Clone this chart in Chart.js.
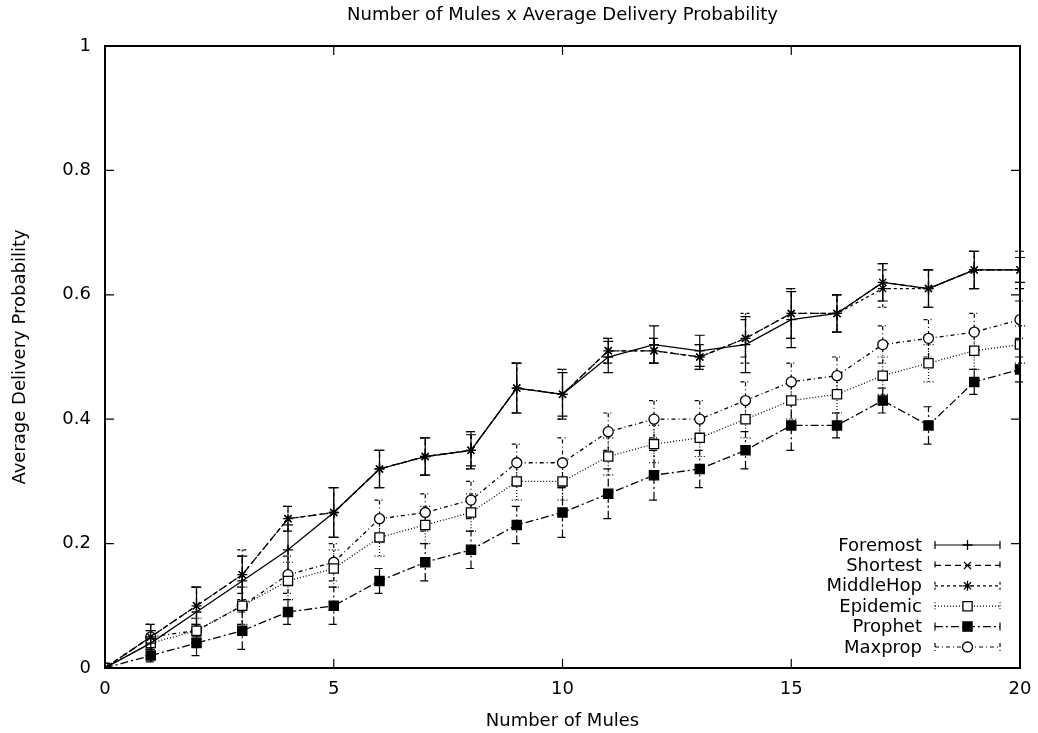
<!DOCTYPE html>
<html>
<head>
<meta charset="utf-8">
<script src="https://cdn.jsdelivr.net/npm/chart.js@4.4.0/dist/chart.umd.min.js"></script>
<style>
html, body { margin: 0; padding: 0; background: #fff; }
#wrap { width: 1038px; height: 733px; }
</style>
</head>
<body>
<div id="wrap"><canvas id="myChart"></canvas></div>
<script>
// data
const mules = [0, 1, 2, 3, 4, 5, 6, 7, 8, 9, 10, 11, 12, 13, 14, 15, 16, 17, 18, 19, 20];
const xTicks = [0, 5, 10, 15, 20];
const yTicks = [0, 0.2, 0.4, 0.6, 0.8, 1];

const foremost  = [0, 0.04, 0.09, 0.14, 0.19, 0.25, 0.32, 0.34, 0.35, 0.45, 0.44, 0.50, 0.52, 0.51, 0.52, 0.56, 0.57, 0.62, 0.61, 0.64, 0.64];
const shortest  = [0, 0.05, 0.10, 0.15, 0.24, 0.25, 0.32, 0.34, 0.35, 0.45, 0.44, 0.51, 0.51, 0.50, 0.53, 0.57, 0.57, 0.62, 0.61, 0.64, 0.64];
const middleHop = [0, 0.05, 0.10, 0.15, 0.24, 0.25, 0.32, 0.34, 0.35, 0.45, 0.44, 0.51, 0.51, 0.50, 0.53, 0.57, 0.57, 0.61, 0.61, 0.64, 0.64];
const epidemic  = [0, 0.04, 0.06, 0.10, 0.14, 0.16, 0.21, 0.23, 0.25, 0.30, 0.30, 0.34, 0.36, 0.37, 0.40, 0.43, 0.44, 0.47, 0.49, 0.51, 0.52];
const prophet   = [0, 0.02, 0.04, 0.06, 0.09, 0.10, 0.14, 0.17, 0.19, 0.23, 0.25, 0.28, 0.31, 0.32, 0.35, 0.39, 0.39, 0.43, 0.39, 0.46, 0.48];
const maxprop   = [0, 0.05, 0.06, 0.10, 0.15, 0.17, 0.24, 0.25, 0.27, 0.33, 0.33, 0.38, 0.40, 0.40, 0.43, 0.46, 0.47, 0.52, 0.53, 0.54, 0.56];

// half-widths of the error bars
const foremostErr  = [0, 0.02, 0.04, 0.04, 0.04, 0.04, 0.03, 0.03, 0.025, 0.04, 0.035, 0.025, 0.03, 0.025, 0.045, 0.045, 0.03, 0.03, 0.03, 0.03, 0.02];
const shortestErr  = [0, 0.02, 0.03, 0.03, 0.02, 0.04, 0.03, 0.03, 0.03, 0.04, 0.04, 0.02, 0.02, 0.02, 0.03, 0.04, 0.03, 0.03, 0.03, 0.03, 0.02];
const middleHopErr = [0, 0.02, 0.03, 0.04, 0.02, 0.04, 0.03, 0.03, 0.03, 0.04, 0.04, 0.02, 0.02, 0.02, 0.04, 0.04, 0.03, 0.03, 0.03, 0.03, 0.03];
const epidemicErr  = [0, 0.02, 0.02, 0.03, 0.03, 0.03, 0.03, 0.03, 0.03, 0.03, 0.03, 0.03, 0.03, 0.03, 0.03, 0.03, 0.03, 0.03, 0.03, 0.03, 0.03];
const prophetErr   = [0, 0.01, 0.02, 0.03, 0.02, 0.03, 0.02, 0.03, 0.03, 0.03, 0.04, 0.04, 0.04, 0.03, 0.03, 0.04, 0.02, 0.02, 0.03, 0.02, 0.02];
const maxpropErr   = [0, 0.02, 0.02, 0.03, 0.03, 0.03, 0.03, 0.03, 0.03, 0.03, 0.04, 0.03, 0.03, 0.03, 0.03, 0.03, 0.03, 0.03, 0.03, 0.03, 0.03];

const TITLE = 'Number of Mules x Average Delivery Probability';
const FONT = "'DejaVu Sans', sans-serif";

function series(label, values, errs, dash, pointStyle, fill, radius) {
    return {
        label: label,
        data: mules.map((m, i) => ({ x: m, y: values[i] })),
        errors: errs,
        borderColor: '#000',
        borderWidth: 1.3,
        borderDash: dash,
        pointStyle: pointStyle,
        pointRadius: radius,
        pointBorderWidth: 1.3,
        pointBorderColor: '#000',
        pointBackgroundColor: fill,
        tension: 0
    };
}

// vertical error bars with caps, drawn through the scales
const errorBars = {
    id: 'errorBars',
    beforeDatasetsDraw(chart) {
        const ctx = chart.ctx, xs = chart.scales.x, ys = chart.scales.y;
        ctx.save();
        ctx.strokeStyle = '#000';
        ctx.lineWidth = 1.2;
        chart.data.datasets.forEach(ds => {
            ctx.setLineDash(ds.borderDash || []);
            ds.data.forEach((p, i) => {
                const e = ds.errors[i];
                if (!e) return;
                const x = xs.getPixelForValue(p.x);
                const y1 = ys.getPixelForValue(p.y - e);
                const y2 = ys.getPixelForValue(p.y + e);
                ctx.beginPath();
                ctx.moveTo(x, y1); ctx.lineTo(x, y2);
                ctx.moveTo(x - 5, y1); ctx.lineTo(x + 5, y1);
                ctx.moveTo(x - 5, y2); ctx.lineTo(x + 5, y2);
                ctx.stroke();
            });
        });
        ctx.restore();
    }
};

// gnuplot style frame with inward ticks on all sides, title centred over the plot
const frame = {
    id: 'frame',
    afterDraw(chart) {
        const ctx = chart.ctx, a = chart.chartArea, xs = chart.scales.x, ys = chart.scales.y;
        ctx.save();
        ctx.strokeStyle = '#000';
        ctx.lineWidth = 2;
        ctx.strokeRect(a.left, a.top, a.right - a.left, a.bottom - a.top);
        ctx.lineWidth = 1.2;
        ctx.beginPath();
        xTicks.forEach(t => {
            const x = xs.getPixelForValue(t);
            ctx.moveTo(x, a.bottom); ctx.lineTo(x, a.bottom - 9);
            ctx.moveTo(x, a.top); ctx.lineTo(x, a.top + 9);
        });
        yTicks.forEach(t => {
            const y = ys.getPixelForValue(t);
            ctx.moveTo(a.left, y); ctx.lineTo(a.left + 9, y);
            ctx.moveTo(a.right, y); ctx.lineTo(a.right - 9, y);
        });
        ctx.stroke();
        ctx.font = '18px ' + FONT;
        ctx.fillStyle = '#000';
        ctx.textAlign = 'center';
        ctx.textBaseline = 'middle';
        ctx.fillText(TITLE, (a.left + a.right) / 2, 15);
        ctx.restore();
    }
};

// key in the lower right corner, text right aligned, sample with error caps
const key = {
    id: 'key',
    afterDraw(chart) {
        const ctx = chart.ctx, a = chart.chartArea;
        ctx.save();
        ctx.font = '18px ' + FONT;
        ctx.textAlign = 'right';
        ctx.textBaseline = 'middle';
        chart.data.datasets.forEach((ds, i) => {
            const y = a.bottom - 123 + i * 20.4;
            ctx.fillStyle = '#000';
            ctx.fillText(ds.label, a.right - 98, y + 1);
            const x1 = a.right - 85, x2 = a.right - 20;
            ctx.strokeStyle = '#000';
            ctx.lineWidth = 1.2;
            ctx.setLineDash(ds.borderDash || []);
            ctx.beginPath();
            ctx.moveTo(x1, y); ctx.lineTo(x2, y);
            ctx.moveTo(x1, y - 4); ctx.lineTo(x1, y + 4);
            ctx.moveTo(x2, y - 4); ctx.lineTo(x2, y + 4);
            ctx.stroke();
            ctx.setLineDash([]);
            ctx.fillStyle = ds.pointBackgroundColor;
            ctx.lineWidth = 1.3;
            Chart.helpers.drawPoint(ctx, {
                pointStyle: ds.pointStyle, radius: ds.pointRadius, borderWidth: 1.3, rotation: 0
            }, (x1 + x2) / 2, y);
        });
        ctx.restore();
    }
};

let ctx0 = document.getElementById('myChart').getContext('2d');
var chart = new Chart(ctx0, {
    type: 'line',
    data: {
        datasets: [
            series('Foremost', foremost, foremostErr, [], 'cross', '#000', 5),
            series('Shortest', shortest, shortestErr, [6, 4], 'crossRot', '#000', 5),
            series('MiddleHop', middleHop, middleHopErr, [3, 3], 'star', '#000', 5),
            series('Epidemic', epidemic, epidemicErr, [1, 2], 'rect', '#fff', 6.5),
            series('Prophet', prophet, prophetErr, [8, 3, 2, 3], 'rect', '#000', 6.5),
            series('Maxprop', maxprop, maxpropErr, [4, 3, 1, 3], 'circle', '#fff', 5)
        ]
    },
    options: {
        responsive: true,
        maintainAspectRatio: false,
        animation: false,
        layout: { padding: { left: 0, right: 18, top: 46, bottom: 0 } },
        plugins: {
            legend: { display: false },
            tooltip: { enabled: false },
            title: { display: false }
        },
        scales: {
            x: {
                type: 'linear',
                min: 0, max: 20,
                afterFit: s => { s.height = 65; s.paddingLeft = 0; s.paddingRight = 0; },
                afterBuildTicks: s => { s.ticks = xTicks.map(v => ({ value: v })); },
                grid: { display: false, drawTicks: false },
                border: { display: false },
                ticks: { color: '#000', font: { family: FONT, size: 18 }, padding: 11, maxRotation: 0 },
                title: {
                    display: true, text: 'Number of Mules', color: '#000',
                    font: { family: FONT, size: 18 }, padding: { top: 0, bottom: 1 }
                }
            },
            y: {
                min: 0, max: 1,
                afterFit: s => { s.width = 105; s.paddingTop = 0; s.paddingBottom = 0; },
                afterBuildTicks: s => { s.ticks = yTicks.map(v => ({ value: v })); },
                grid: { display: false, drawTicks: false },
                border: { display: false },
                ticks: {
                    color: '#000', font: { family: FONT, size: 18 }, padding: 14,
                    callback: v => String(v)
                },
                title: {
                    display: true, text: 'Average Delivery Probability', color: '#000',
                    font: { family: FONT, size: 18 }, padding: { top: 10, bottom: 0 }
                }
            }
        }
    },
    plugins: [errorBars, frame, key]
});
</script>
</body>
</html>
